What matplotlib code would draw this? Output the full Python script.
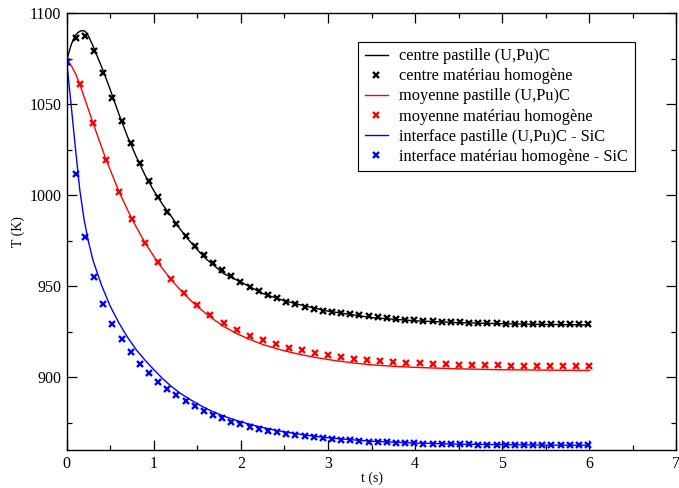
import matplotlib
matplotlib.use("Agg")
import matplotlib.pyplot as plt
from matplotlib.ticker import MultipleLocator

plt.rcParams["font.family"] = ["Liberation Serif", "DejaVu Serif"]

# time grid of the homogeneous-material model (centre and interface)
t_homog = [0.0, 0.105, 0.21, 0.315, 0.42, 0.525, 0.63, 0.735, 0.84, 0.945,
           1.05, 1.155, 1.26, 1.365, 1.47, 1.575, 1.68, 1.785, 1.89, 1.995,
           2.1, 2.205, 2.31, 2.415, 2.52, 2.625, 2.73, 2.835, 2.94, 3.045,
           3.15, 3.255, 3.36, 3.465, 3.57, 3.675, 3.78, 3.885, 3.99, 4.095,
           4.2, 4.305, 4.41, 4.515, 4.62, 4.725, 4.83, 4.935, 5.04, 5.145,
           5.25, 5.355, 5.46, 5.565, 5.67, 5.775, 5.88, 5.985]

T_centre_homog = [1073.5, 1086.3, 1087.7, 1079.1, 1067.0, 1053.6, 1040.8, 1028.6, 1017.6, 1007.7,
                  999.2, 991.0, 984.2, 977.6, 972.1, 967.2, 962.6, 958.9, 955.7, 952.5,
                  949.8, 947.4, 945.2, 943.4, 941.5, 940.3, 938.8, 937.7, 936.6, 935.7,
                  935.3, 934.6, 934.1, 933.5, 933.0, 932.4, 932.0, 931.6, 931.3, 931.1,
                  930.8, 930.6, 930.4, 930.2, 930.0, 929.9, 929.7, 929.6, 929.5, 929.4,
                  929.3, 929.2, 929.2, 929.1, 929.1, 929.0, 929.0, 929.0]

T_interf_homog = [1073.5, 1011.7, 976.9, 955.3, 940.5, 929.5, 920.8, 913.6, 907.5, 902.2,
                  897.6, 893.6, 890.1, 886.8, 884.1, 881.6, 879.5, 877.5, 875.6, 874.2,
                  872.9, 871.7, 870.7, 869.8, 868.9, 868.2, 867.6, 867.1, 866.7, 866.3,
                  865.7, 865.4, 865.0, 864.6, 864.5, 864.3, 864.1, 863.9, 863.7, 863.5,
                  863.5, 863.3, 863.3, 863.2, 863.2, 863.0, 863.0, 862.9, 862.9, 862.8,
                  862.8, 862.7, 862.7, 862.7, 862.6, 862.6, 862.6, 862.6]

# mean temperature of the homogeneous material
t_moy_homog = [0.0, 0.15, 0.3, 0.45, 0.6, 0.75, 0.9, 1.05, 1.2, 1.35,
               1.5, 1.65, 1.8, 1.95, 2.1, 2.25, 2.4, 2.55, 2.7, 2.85,
               3.0, 3.15, 3.3, 3.45, 3.6, 3.75, 3.9, 4.05, 4.2, 4.35,
               4.5, 4.65, 4.8, 4.95, 5.1, 5.25, 5.4, 5.55, 5.7, 5.85, 6.0]
T_moy_homog = [1073.5, 1061.0, 1039.6, 1019.4, 1001.8, 986.8, 974.0, 963.2, 954.0, 946.2,
               939.7, 934.4, 929.7, 926.0, 922.9, 920.2, 918.0, 916.3, 914.8, 913.2,
               912.0, 911.0, 910.1, 909.5, 909.0, 908.4, 908.0, 907.7, 907.5, 907.1,
               906.9, 906.8, 906.6, 906.6, 906.4, 906.4, 906.4, 906.2, 906.2, 906.2, 906.2]

# (U,Pu)C pellet calculation
t_centre_pel = [0.0, 0.025, 0.05, 0.075, 0.1, 0.13, 0.17, 0.21, 0.25, 0.3,
                0.35, 0.42, 0.5, 0.6, 0.7, 0.8, 0.9, 1.0, 1.1, 1.2,
                1.3, 1.4, 1.5, 1.6, 1.8, 2.0, 2.25, 2.5, 2.75, 3.0,
                3.5, 4.0, 4.5, 5.0, 5.5, 6.0]
T_centre_pel = [1073.5, 1078.5, 1082.5, 1085.5, 1087.8, 1089.5, 1090.5, 1090.2, 1087.5, 1082.3,
                1076.5, 1068.3, 1058.0, 1044.5, 1032.0, 1021.0, 1011.0, 1002.5, 995.0, 988.5,
                981.5, 975.5, 970.0, 965.0, 957.0, 952.3, 946.0, 942.0, 939.0, 936.3,
                932.8, 931.0, 930.0, 929.4, 929.0, 928.8]

t_moy_pel = [0.0, 0.05, 0.1, 0.15, 0.225, 0.3, 0.45, 0.6, 0.75, 0.9,
             1.05, 1.2, 1.35, 1.5, 1.65, 1.8, 1.95, 2.1, 2.25, 2.4,
             2.55, 2.7, 2.9, 3.1, 3.3, 3.5, 3.75, 4.0, 4.5, 5.0,
             5.5, 6.0]
T_moy_pel = [1073.5, 1071.5, 1067.0, 1061.0, 1050.5, 1040.0, 1019.8, 1002.0, 986.8, 973.8,
             962.8, 953.5, 945.6, 938.8, 933.0, 928.0, 924.0, 920.8, 918.0, 915.8,
             913.9, 912.3, 910.5, 909.0, 907.8, 906.8, 906.0, 905.4, 904.6, 904.1,
             903.9, 903.7]

t_interf_pel = [0.0, 0.05, 0.1, 0.15, 0.2, 0.25, 0.3, 0.4, 0.5, 0.6,
                0.7, 0.8, 0.9, 1.0, 1.1, 1.2, 1.3, 1.4, 1.5, 1.6,
                1.7, 1.8, 1.9, 2.0, 2.2, 2.4, 2.6, 2.8, 3.0, 3.25,
                3.5, 4.0, 4.5, 5.0, 5.5, 6.0]
T_interf_pel = [1073.5, 1050.0, 1026.0, 1003.0, 986.5, 974.5, 964.5, 950.5, 939.0, 929.8,
                921.8, 915.0, 909.3, 904.2, 899.3, 895.0, 891.3, 888.2, 885.4, 882.8,
                880.6, 878.7, 877.0, 875.5, 872.9, 870.8, 869.2, 867.8, 866.7, 865.7,
                864.8, 863.8, 863.2, 862.9, 862.7, 862.6]

W, H = 679, 488
fig = plt.figure(figsize=(W / 100, H / 100), dpi=100)
x0, x1, y0, y1 = 66.7, 676.5, 13.3, 450.0
ax = fig.add_axes([x0 / W, 1 - y1 / H, (x1 - x0) / W, (y1 - y0) / H])

mk = dict(ls="none", marker="x", ms=4.6, mew=1.7)
ax.plot(t_centre_pel, T_centre_pel, color="black", lw=1.0, label="centre pastille (U,Pu)C")
ax.plot(t_homog, T_centre_homog, color="black", label="centre matériau homogène", **mk)
ax.plot(t_moy_pel, T_moy_pel, color="red", lw=1.0, label="moyenne pastille (U,Pu)C")
ax.plot(t_moy_homog, T_moy_homog, color="red", label="moyenne matériau homogène", **mk)
ax.plot(t_interf_pel, T_interf_pel, color="blue", lw=1.0, label="interface pastille (U,Pu)C - SiC")
ax.plot(t_homog, T_interf_homog, color="blue", label="interface matériau homogène - SiC", **mk)

ax.set_xlim(0, 7)
ax.set_ylim(860, 1100)
ax.xaxis.set_major_locator(MultipleLocator(1))
ax.xaxis.set_minor_locator(MultipleLocator(0.5))
ax.yaxis.set_major_locator(MultipleLocator(50))
ax.yaxis.set_minor_locator(MultipleLocator(25))
ax.tick_params(which="both", direction="in", top=True, right=True, width=0.9,
               labelsize=11.5, pad=4)
ax.tick_params(which="major", length=7.2)
ax.tick_params(which="minor", length=3.6)
for s in ax.spines.values():
    s.set_linewidth(1.0)

ax.set_xlabel("t (s)", fontsize=10, va="center")
ax.set_ylabel("T (K)", fontsize=10, va="center")
ax.xaxis.set_label_coords(0.5, (y1 - 478) / (y1 - y0))
ax.yaxis.set_label_coords((18 - x0) / (x1 - x0), 0.5)

leg = ax.legend(loc="upper left", bbox_to_anchor=((358.3 - x0) / (x1 - x0), (y1 - 41.7) / (y1 - y0)),
                borderaxespad=0, fontsize=11.8, numpoints=1, handlelength=1.4,
                handletextpad=0.7, borderpad=0.4, labelspacing=0.25,
                fancybox=False, framealpha=1, edgecolor="black", markerscale=0.8)
leg.get_frame().set_linewidth(0.8)

fig.savefig("out.png", dpi=100)
